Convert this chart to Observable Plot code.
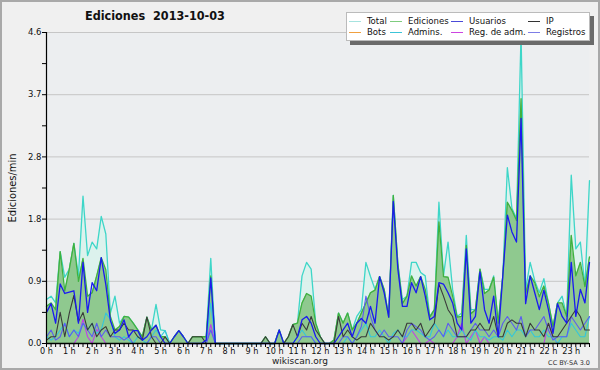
<!DOCTYPE html>
<html><head><meta charset="utf-8">
<script src="https://cdn.jsdelivr.net/npm/d3@7"></script>
<script src="https://cdn.jsdelivr.net/npm/@observablehq/plot@0.6"></script>
<style>
body{margin:0;background:#f0f0f0;}
#wrap{position:relative;width:600px;height:370px;background:#f0f0f0;overflow:hidden;font-family:"DejaVu Sans",sans-serif;color:#111;}
#chart{position:absolute;left:0;top:0;}
#border{position:absolute;left:0;top:0;width:600px;height:370px;box-sizing:border-box;border:2px solid #a9a9a9;pointer-events:none;}
.t{position:absolute;white-space:nowrap;line-height:1;}
#title{left:85px;top:10px;font-size:12.5px;font-weight:bold;font-family:"DejaVu Sans Condensed","DejaVu Sans",sans-serif;font-stretch:condensed;}
#ylab{left:12px;top:188px;font-size:11px;transform:translate(-50%,-50%) rotate(-90deg);transform-origin:center;font-family:"DejaVu Sans Condensed","DejaVu Sans",sans-serif;font-stretch:condensed;}
#foot{left:300px;top:357px;font-size:9px;transform:translateX(-50%);color:#222;}
#cc{right:10px;top:360px;font-size:6.5px;color:#333;}
#legend{position:absolute;left:346px;top:12px;width:242px;height:27px;background:#fff;border:1px solid #bbb;box-shadow:4px 4px 0 #6a6a6a;}
.li{position:absolute;font-size:9.5px;line-height:1;white-space:nowrap;color:#111;font-family:"DejaVu Sans Condensed","DejaVu Sans",sans-serif;font-stretch:condensed;}
.li i{position:absolute;left:-18px;top:5px;width:12px;height:0;border-top:1.3px solid #000;}
</style></head><body>
<div id="wrap">
<div id="chart"></div>
<div class="t" id="title">Ediciones&nbsp;&nbsp;2013-10-03</div>
<div class="t" id="ylab">Ediciones/min</div>
<div class="t" id="foot">wikiscan.org</div>
<div class="t" id="cc">CC BY-SA 3.0</div>
<div id="legend"></div>
<div id="border"></div>
</div>
<script>
// 12-minute bins, 120 per day (values in edits per minute)
const total = [.65,.7,.6,1.36,.98,1.1,1.48,1.0,2.18,1.3,1.5,1.4,1.88,1.62,.45,.7,.3,.4,
 .39,.3,.2,.1,.39,.2,.58,.2,.19,0,.1,.19,.1,0,.1,.1,.1,.1,1.26,0,
 0,0,0,0,0,0,0,0,0,
 0,.1,0,0,.2,0,.1,.28,.3,1.0,1.2,1.1,.3,.1,0,0,.05,.45,.3,.45,.2,.4,
 .5,1.2,.99,.8,.99,.8,.4,2.19,1.18,.65,.7,1.2,1.2,1.05,1.0,.4,.5,2.09,1.0,1.5,.8,.4,.45,1.6,.5,.5,1.1,.8,.8,1.0,.3,1.0,2.6,2.0,1.85,4.58,.8,1.2,.93,.75,.96,.6,.25,.6,.7,.4,2.49,1.4,1.5,.84,2.41];
const ediciones = [.55,.6,.5,1.36,.78,1.1,1.48,.92,1.26,.7,.75,1.0,1.27,1.09,.4,.2,.25,.4,
 .39,.3,.2,.1,.39,.2,.27,.1,.1,0,.1,.19,.1,0,.1,.1,.1,.1,1.0,0,
 0,0,0,0,0,0,0,0,0,
 0,.1,0,0,.2,0,.1,.28,.3,.6,.74,.7,.3,.1,0,0,.05,.45,.3,.45,.2,.3,
 .45,.6,.75,.79,.99,.8,.39,2.19,1.18,.59,.7,1.0,.85,.99,.8,.39,.5,1.8,.99,.98,.7,.39,.4,1.45,.44,.5,1.1,.74,.79,.98,.3,1.0,2.09,1.97,1.82,3.62,.74,1.0,.9,.69,.85,.6,.25,.6,.6,.4,1.6,1.0,1.2,.84,1.28];
const usuarios = [.46,.59,.3,.88,.74,.76,.78,.3,1.2,.46,.9,.78,1.27,.87,.34,.15,.2,.35,
 .1,.19,.19,.05,.1,.2,.27,.1,0,0,.1,.19,.1,0,0,0,0,.05,.97,0,
 0,0,0,0,0,0,0,0,0,
 0,0,0,0,.2,0,0,0,.1,.35,.4,.3,.1,0,0,0,0,.1,.2,.3,.1,.3,
 .37,.3,.55,.3,.99,.75,.39,2.1,1.1,.55,.55,.9,.75,.99,.7,.35,.4,.9,.88,.75,.6,.3,.2,1.4,.3,.4,1.06,.5,.3,.7,.1,1.0,1.9,1.65,1.5,3.33,.59,1.0,.75,.5,.79,.5,.15,.59,.4,.3,1.2,.4,.8,.6,1.2];
const ip = [.05,.1,.1,.46,.1,.45,.71,.32,.46,.2,.3,.1,.2,.25,.1,.2,.2,.3,
 .2,.2,.1,.05,.39,.1,0,0,.1,0,0,0,0,0,.1,.1,.1,0,0,0,
 0,0,0,0,0,0,0,0,0,
 0,.1,0,0,0,0,.1,.28,.1,.3,.2,.4,.2,.1,0,0,0,.4,.1,.2,.1,.05,
 .1,.1,.3,.2,.1,.1,.05,.1,.2,.1,.3,.3,.2,.3,.1,.2,.3,.88,.7,.5,.4,.1,.1,.1,.2,.2,.3,.2,.2,.4,.1,.1,.3,.35,.3,.3,.1,.3,.2,.2,.1,.3,.1,.1,.2,.3,.4,.5,.4,.2,.2];
const bots = new Array(120).fill(0);
const admins = [.1,.05,.1,.2,.3,.1,.2,.15,.3,.2,.3,.15,.2,.45,.36,.1,.05,.1,
 .05,0,.1,.05,0,.1,.2,.1,.19,0,0,0,0,0,0,0,0,0,.6,0,
 0,0,0,0,0,0,0,0,0,
 0,0,0,0,0,0,0,0,.1,.2,.1,.1,0,0,0,0,0,0,0,.1,0,.1,
 .2,.3,.1,.1,.2,.1,0,.15,.2,.1,.1,.2,.2,.15,.1,.1,.3,.2,.1,.2,.1,.1,.2,.1,.05,.2,.1,.1,.05,.1,.1,.05,.2,.1,.2,.2,.1,.2,.1,.1,.2,.1,.1,0,.1,.1,.3,.2,.1,.1,.4];
const regAdm = [0,0,0,0,0,0,0,.1,.36,.1,0,.21,.1,0,0,0,0,0,
 0,0,0,0,0,0,0,0,0,0,0,0,0,0,0,0,0,0,.28,0,
 0,0,0,0,0,0,0,0,0,
 0,0,0,0,0,0,0,0,0,0,0,0,0,0,0,0,0,0,0,0,0,0,
 0,0,0,0,0,0,0,0,0,0,.1,.2,.1,0,0,.05,0,0,0,0,0,.1,.3,0,.1,.2,0,.1,0,0,0,0,0,0,0,0,0,0,0,0,0,.3,.1,0,0,0,0,0,0,0,0];
const registros = [.1,.2,.05,.1,.3,.1,.2,.1,.3,.2,.1,.3,.1,.2,.1,.1,.1,.05,
 .1,0,0,0,0,.1,.1,0,0,0,0,0,0,0,0,0,0,0,.2,0,
 0,0,0,0,0,0,0,0,0,
 0,0,0,0,0,0,0,0,0,.1,.1,.1,0,0,0,0,0,0,.1,.1,0,.1,
 .25,.7,.4,.2,.1,.2,.1,.1,.1,0,.2,.3,.25,.2,.1,.05,.1,.2,.1,.3,.2,.1,.1,.1,.2,.3,.2,.2,.1,.2,.1,.3,.4,.3,.2,.4,.1,.2,.2,.3,.4,.2,.05,.1,.1,.1,.4,.3,.2,.3,.4];
const hourLabels = d3.range(24).map(h => h + " h");
const yTickValues = [0, 0.92, 1.84, 2.76, 3.68, 4.6];
const legendItems = ["Total","Ediciones","Usuarios","IP","Bots","Admins.","Reg. de adm.","Registros"];
const legendColors = ["#a6e3df","#7fcc7f","#4a4ad8","#333333","#f0a040","#3cc4d8","#cc44e0","#7d7de6"];

const series = {total, ediciones, usuarios, ip, bots, admins, regAdm, registros};
for (const [k, v] of Object.entries(series)) if (v.length !== 120) throw new Error(k + " has " + v.length);

const rows = d3.range(120).map(i => {
  const r = {h: i / 5};
  for (const k in series) r[k] = series[k][i];
  return r;
});
const yMinor = yTickValues.slice(0, -1).map(v => v + 0.46);

const chart = Plot.plot({
  width: 600, height: 370,
  marginLeft: 46, marginRight: 11, marginTop: 32, marginBottom: 27,
  x: {domain: [0, 23.8], axis: null},
  y: {domain: [0, 4.6], axis: null},
  style: {background: "transparent", fontFamily: "DejaVu Sans, sans-serif", fontSize: "9px", color: "#111", overflow: "visible"},
  marks: [
    Plot.frame({fill: "#eceef0", stroke: "none"}),
    Plot.ruleY(yTickValues.slice(1), {stroke: "#c6c6c6", strokeWidth: 1}),
    Plot.areaY(rows, {x: "h", y: "total", fill: "#dbf1ec", fillOpacity: 0.95}),
    Plot.lineY(rows, {x: "h", y: "total", stroke: "#3ed6c8", strokeWidth: 1.3}),
    Plot.areaY(rows, {x: "h", y: "ediciones", fill: "#8fc98f"}),
    Plot.lineY(rows, {x: "h", y: "ediciones", stroke: "#3fb13f", strokeWidth: 1.3}),
    Plot.lineY(rows, {x: "h", y: "bots", stroke: "#f0a040", strokeWidth: 1}),
    Plot.lineY(rows, {x: "h", y: "regAdm", stroke: "#c040e8", strokeWidth: 1.1}),
    Plot.lineY(rows, {x: "h", y: "admins", stroke: "#33c6dc", strokeWidth: 1.1}),
    Plot.lineY(rows, {x: "h", y: "registros", stroke: "#5c5cf0", strokeWidth: 1.1}),
    Plot.lineY(rows, {x: "h", y: "ip", stroke: "#3a3a3a", strokeWidth: 1.1}),
    Plot.lineY(rows, {x: "h", y: "usuarios", stroke: "#1a1af0", strokeWidth: 1.3}),
    Plot.ruleX([0], {stroke: "#000", strokeWidth: 1.2}),
    Plot.ruleY([0], {stroke: "#000", strokeWidth: 1.5}),
    Plot.axisY({ticks: yTickValues, tickFormat: d => d.toFixed(1), tickSize: 4, tickPadding: 1, stroke: "#000", label: null, fontSize: 8.5}),
    Plot.axisY({ticks: yMinor, tickFormat: () => "", tickSize: 4, stroke: "#000", label: null}),
    Plot.axisX({ticks: d3.range(120).map(i => i / 5), tickFormat: () => "", tickSize: 4, stroke: "#000", label: null}),
    Plot.axisX({ticks: d3.range(24), tickFormat: h => hourLabels[h], tickSize: 0, tickPadding: 4, label: null, fontSize: 9, fontFamily: "DejaVu Sans Condensed, DejaVu Sans, sans-serif", fontStretch: "condensed"})
  ]
});
document.getElementById("chart").appendChild(chart);

const lg = document.getElementById("legend");
const colX = [20, 61, 122, 199];
legendItems.forEach((name, k) => {
  const d = document.createElement("div");
  d.className = "li";
  d.style.left = colX[k % 4] + "px";
  d.style.top = (k < 4 ? 3 : 14) + "px";
  d.innerHTML = `<i style="border-top-color:${legendColors[k]}"></i>${name}`;
  lg.appendChild(d);
});
</script>
</body></html>
